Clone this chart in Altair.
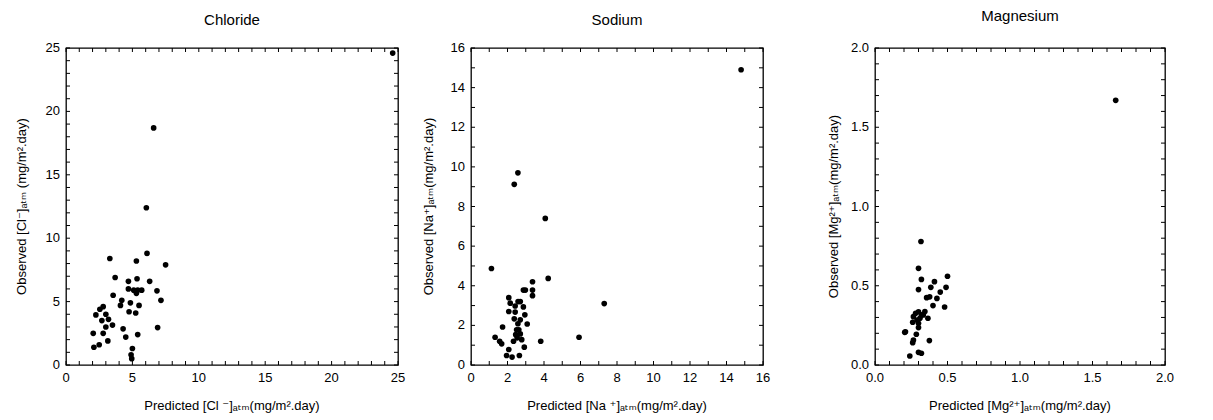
import altair as alt
import pandas as pd

# ---------------- data ----------------
cl_pred = [3.3, 5.3, 6.1, 7.5, 3.7, 4.7, 5.35, 6.3, 4.7, 5.1, 5.4, 5.7, 5.3, 6.85, 7.15,
           3.55, 4.2, 4.1, 4.85, 5.5, 2.8, 2.55, 2.25, 3.0, 4.75, 5.25, 2.7, 3.2, 3.5,
           3.0, 4.3, 6.9, 2.05, 2.8, 5.4, 4.5, 3.15, 2.1, 2.5, 5.0, 4.9, 4.95, 6.05,
           6.6, 24.6]
cl_obs = [8.4, 8.2, 8.8, 7.9, 6.9, 6.6, 6.8, 6.6, 6.0, 5.9, 5.9, 5.9, 5.65, 5.85, 5.1,
          5.5, 5.1, 4.7, 4.9, 4.7, 4.6, 4.4, 3.95, 4.0, 4.2, 4.1, 3.5, 3.6, 3.15,
          3.0, 2.85, 2.95, 2.5, 2.5, 2.4, 2.2, 1.9, 1.4, 1.6, 1.3, 0.8, 0.5, 12.4,
          18.7, 24.6]

na_pred = [2.57, 2.37, 4.07, 1.12, 4.23, 3.37, 2.87, 2.98, 3.37, 3.37, 2.07, 2.15, 2.58,
           2.7, 2.42, 2.87, 2.07, 2.42, 2.95, 2.37, 2.7, 2.57, 3.08, 1.73, 2.5, 2.62,
           2.45, 2.7, 1.32, 2.53, 2.78, 1.57, 1.68, 2.33, 3.82, 5.92, 2.92, 2.07, 1.95,
           2.25, 2.65, 7.3, 14.8]
na_obs = [9.7, 9.12, 7.4, 4.87, 4.37, 4.2, 3.78, 3.78, 3.78, 3.5, 3.4, 3.12, 3.2,
          3.2, 2.98, 2.93, 2.7, 2.67, 2.53, 2.33, 2.28, 2.08, 2.07, 1.92, 1.78, 1.78,
          1.53, 1.57, 1.4, 1.37, 1.28, 1.2, 1.07, 1.2, 1.2, 1.4, 0.9, 0.78, 0.48,
          0.4, 0.48, 3.1, 14.9]

mg_pred = [0.317, 0.30, 0.32, 0.50, 0.41, 0.385, 0.30, 0.49, 0.45, 0.377, 0.356, 0.427,
           0.40, 0.48, 0.30, 0.28, 0.333, 0.365, 0.265, 0.31, 0.26, 0.30, 0.29, 0.344,
           0.32, 0.30, 0.21, 0.205, 0.285, 0.265, 0.26, 0.375, 0.30, 0.32, 0.24, 1.66]
mg_obs = [0.779, 0.61, 0.54, 0.56, 0.526, 0.49, 0.476, 0.49, 0.46, 0.43, 0.425, 0.42,
          0.375, 0.366, 0.336, 0.326, 0.316, 0.295, 0.305, 0.295, 0.27, 0.263, 0.284, 0.337,
          0.316, 0.236, 0.21, 0.206, 0.194, 0.158, 0.141, 0.154, 0.08, 0.074, 0.057, 1.67]

cl_major = [0, 5, 10, 15, 20, 25]
cl_labels = ["0", "5", "10", "15", "20", "25"]
na_major = [0, 2, 4, 6, 8, 10, 12, 14, 16]
na_labels = ["0", "2", "4", "6", "8", "10", "12", "14", "16"]
mg_major = [0.0, 0.5, 1.0, 1.5, 2.0]
mg_labels = ["0.0", "0.5", "1.0", "1.5", "2.0"]
cl_minor = list(range(0, 26))
na_minor = list(range(0, 17))
mg_minor = [i / 10 for i in range(0, 21)]

FONT = "Liberation Sans, Arial, DejaVu Sans"
H = 317
TICK = 4


def full(pred, obs, xmax, ymax, major, labels, minor, title, xt, yt, w, ytx, toff):
    df = pd.DataFrame({"pred": pred, "obs": obs})
    xs = alt.Scale(domain=[0, xmax], nice=False, zero=False)
    ys = alt.Scale(domain=[0, ymax], nice=False, zero=False)
    xt_df = pd.DataFrame({"pred": minor})
    yt_df = pd.DataFrame({"obs": minor})
    lab_df = pd.DataFrame({"v": major, "lab": labels})

    pts = alt.Chart(df).mark_circle(size=32, color="black", opacity=1).encode(
        x=alt.X("pred:Q", scale=xs, axis=None),
        y=alt.Y("obs:Q", scale=ys, axis=None),
    )
    rule = dict(color="black", strokeWidth=1)
    bottom = alt.Chart(xt_df).mark_rule(**rule).encode(
        x=alt.X("pred:Q", scale=xs, axis=None), y=alt.value(H), y2=alt.value(H - TICK))
    top = alt.Chart(xt_df).mark_rule(**rule).encode(
        x=alt.X("pred:Q", scale=xs, axis=None), y=alt.value(0), y2=alt.value(TICK))
    left = alt.Chart(yt_df).mark_rule(**rule).encode(
        y=alt.Y("obs:Q", scale=ys, axis=None), x=alt.value(0), x2=alt.value(TICK))
    right = alt.Chart(yt_df).mark_rule(**rule).encode(
        y=alt.Y("obs:Q", scale=ys, axis=None), x=alt.value(w), x2=alt.value(w - TICK))

    txt = dict(font=FONT, fontSize=13, color="black")
    xlab = alt.Chart(lab_df).mark_text(align="center", baseline="top", **txt).encode(
        x=alt.X("v:Q", scale=xs, axis=None), y=alt.value(H + 7), text="lab:N")
    ylab = alt.Chart(lab_df).mark_text(align="right", baseline="middle", **txt).encode(
        y=alt.Y("v:Q", scale=ys, axis=None), x=alt.value(-6), text="lab:N")
    xtitle = alt.Chart(pd.DataFrame({"t": [xt]})).mark_text(
        align="center", baseline="top", **txt).encode(
        x=alt.value(w / 2), y=alt.value(H + 35), text="t:N")
    ytitle = alt.Chart(pd.DataFrame({"t": [yt]})).mark_text(
        align="center", baseline="middle", angle=270, **txt).encode(
        x=alt.value(-ytx), y=alt.value(H / 2), text="t:N")

    return alt.layer(pts, bottom, top, left, right, xlab, ylab, xtitle, ytitle).properties(
        width=w, height=H,
        title=alt.TitleParams(title, fontSize=15, fontWeight="normal", font=FONT,
                              color="black", offset=toff, anchor="middle"))


p1 = full(cl_pred, cl_obs, 25, 25, cl_major, cl_labels, cl_minor,
          "Chloride", "Predicted [Cl ⁻]ₐₜₘ(mg/m².day)", "Observed [Cl⁻]ₐₜₘ (mg/m².day)",
          332, 44, 14)
p2 = full(na_pred, na_obs, 16, 16, na_major, na_labels, na_minor,
          "Sodium", "Predicted [Na ⁺]ₐₜₘ(mg/m².day)", "Observed [Na⁺]ₐₜₘ(mg/m².day)",
          292, 42, 14)
p3 = full(mg_pred, mg_obs, 2, 2, mg_major, mg_labels, mg_minor,
          "Magnesium", "Predicted [Mg²⁺]ₐₜₘ(mg/m².day)", "Observed [Mg²⁺]ₐₜₘ(mg/m².day)",
          290, 41, 18)

inner = alt.hconcat(p1, p2, spacing=16)
chart = alt.hconcat(inner, p3, spacing=56).properties(
    padding={"left": 7, "top": 0, "right": 2, "bottom": 2},
    background="white",
).configure_view(
    stroke="black", strokeWidth=1.3
)

chart.save("out.html", embed_options={"renderer": "svg", "actions": False})
